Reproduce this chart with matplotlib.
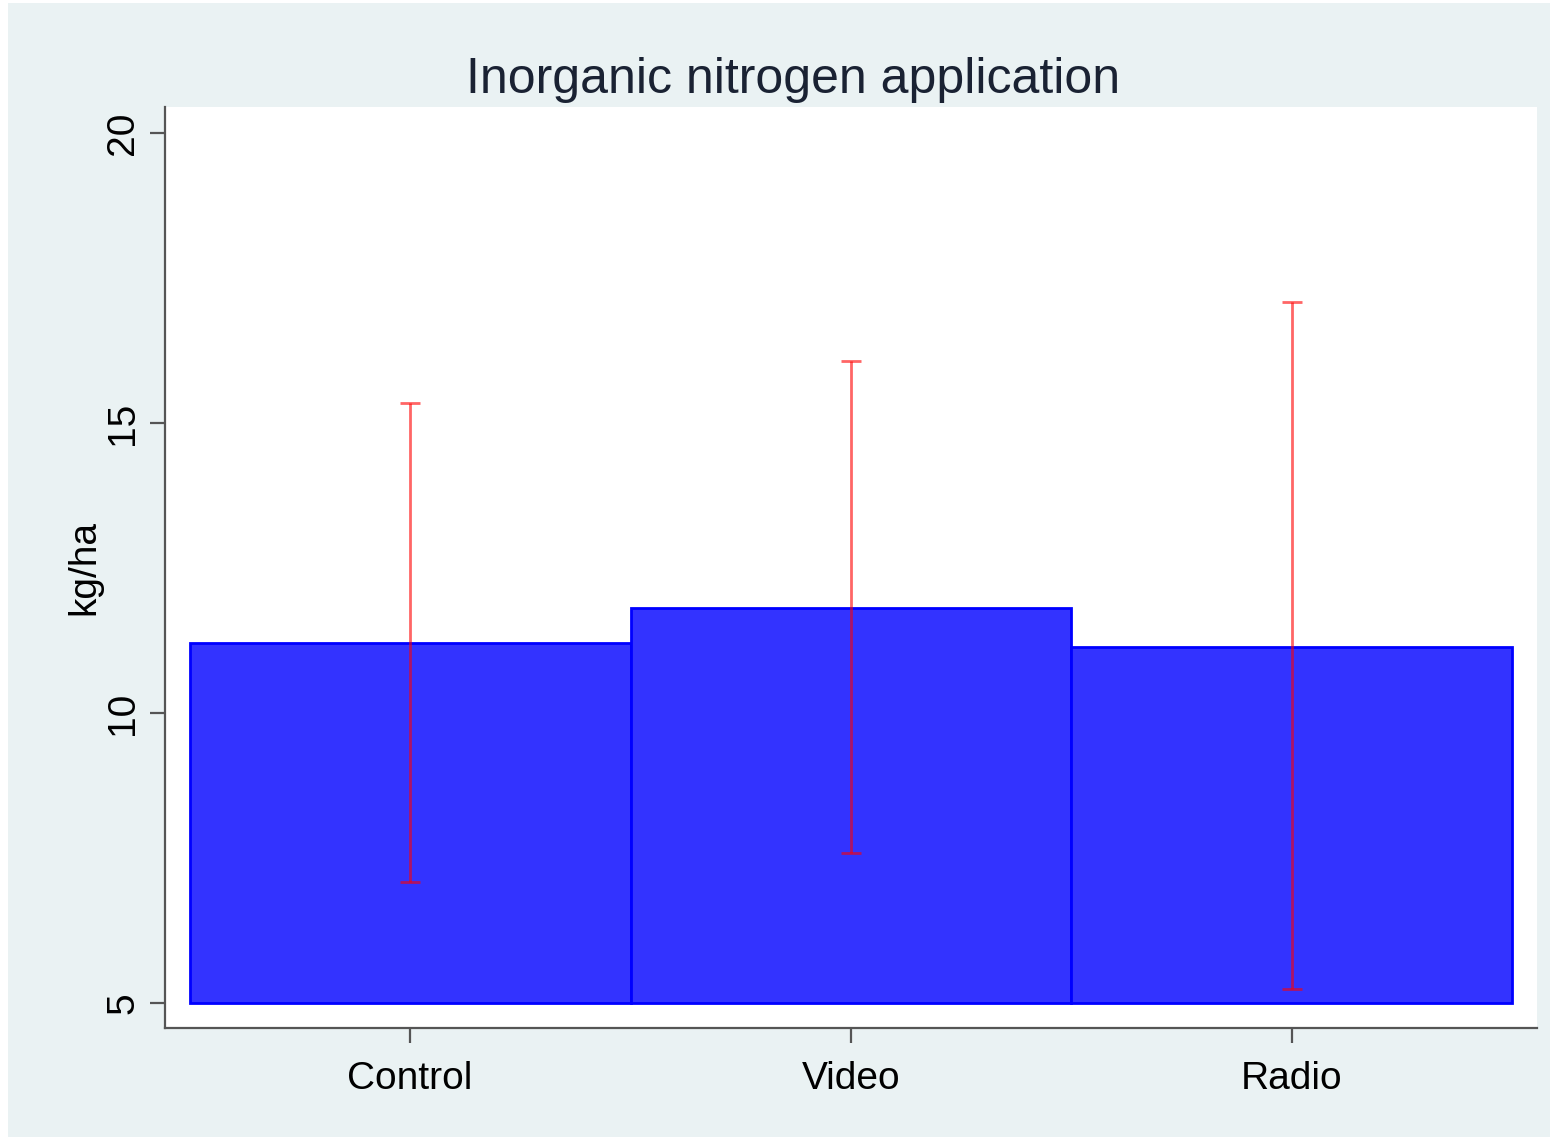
import matplotlib.pyplot as plt
from matplotlib.patches import Rectangle

groups = ['Control', 'Video', 'Radio']
means = [11.21, 11.82, 11.14]
ci_low = [7.09, 7.59, 5.24]
ci_high = [15.34, 16.07, 17.09]
base = 5

plt.rcParams['font.family'] = ['Liberation Sans', 'DejaVu Sans']

fig = plt.figure(figsize=(15.55, 11.4), dpi=100, facecolor='white')
fig.patches.append(Rectangle((8 / 1555, 3 / 1140), 1542 / 1555, 1134 / 1140,
                             transform=fig.transFigure, facecolor='#eaf2f3',
                             edgecolor='none', zorder=-10))

ax = fig.add_axes([165 / 1555, 112 / 1140, 1372 / 1555, 921 / 1140])
ax.set_facecolor('white')

x = list(range(1, len(groups) + 1))
heights = [m - base for m in means]
ax.bar(x, heights, width=1.0, bottom=base, color='#3333ff',
       edgecolor='#0000ff', linewidth=2, zorder=2)

yerr = [[m - lo for m, lo in zip(means, ci_low)],
        [hi - m for m, hi in zip(means, ci_high)]]
ax.errorbar(x, means, yerr=yerr, fmt='none', ecolor='red', alpha=0.6,
            elinewidth=2, capsize=7, capthick=2, zorder=3)

ax.set_xlim(0.444, 3.556)
ax.set_ylim(4.57, 20.45)
ax.set_xticks(x)
ax.set_xticklabels(groups, fontsize=28)
ax.set_yticks([5, 10, 15, 20])
ax.set_yticklabels(['5', '10', '15', '20'], fontsize=28, rotation=90, va='center')
ax.set_ylabel('kg/ha', fontsize=28, labelpad=2)

for s in ['top', 'right']:
    ax.spines[s].set_visible(False)
for s in ['left', 'bottom']:
    ax.spines[s].set_color('#555555')
    ax.spines[s].set_linewidth(1.6)
ax.tick_params(axis='both', length=11, width=1.6, color='#555555')
ax.tick_params(axis='x', pad=13)
ax.tick_params(axis='y', pad=6)

fig.text(793 / 1555, 1 - 93 / 1140, 'Inorganic nitrogen application',
         fontsize=36, ha='center', va='baseline', color='#1a2233')

fig.savefig('out.png', dpi=100, facecolor=fig.get_facecolor())
